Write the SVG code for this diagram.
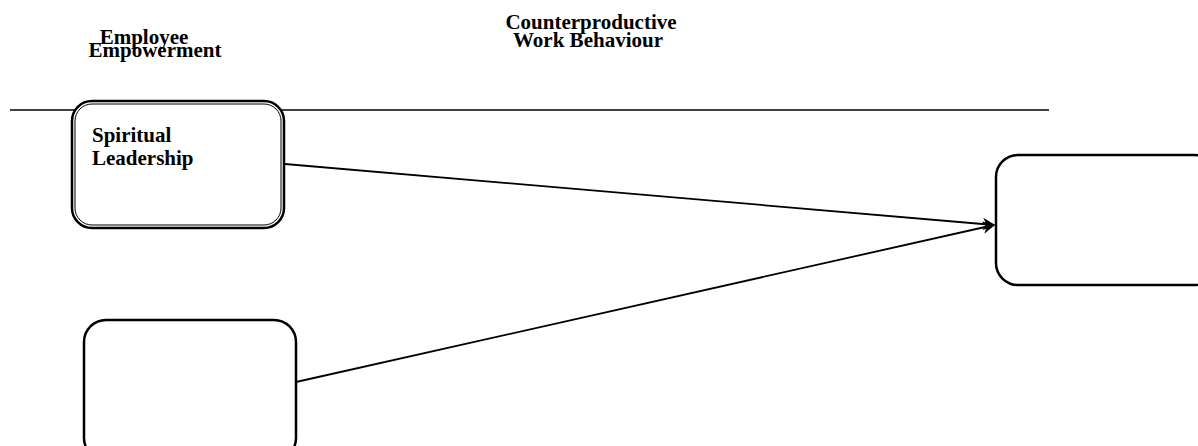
<svg xmlns="http://www.w3.org/2000/svg" width="1198" height="446" viewBox="0 0 1198 446">
<style>
.t{font-family:"Liberation Serif",serif;font-weight:bold;font-size:21px;fill:#000}
.box{fill:#fff;stroke:#000;stroke-width:2.5}
.conn{stroke:#000;stroke-width:1.8;fill:none}
</style>
<defs>
<marker id="ah" viewBox="0 0 10 10" refX="9" refY="5" markerWidth="7" markerHeight="7" orient="auto" markerUnits="strokeWidth">
<path d="M0,0 L10,5 L0,10 L3,5 z" fill="#000"/>
</marker>
</defs>
<rect width="1198" height="446" fill="#fff"/>
<g id="titles">
<text class="t" x="144" y="44" text-anchor="middle">Employee</text>
<text class="t" x="155" y="57" text-anchor="middle">Empowerment</text>
<text class="t" x="591" y="29" text-anchor="middle">Counterproductive</text>
<text class="t" x="588" y="47" text-anchor="middle">Work Behaviour</text>
</g>
<line x1="10" y1="110" x2="1049" y2="110" stroke="#000" stroke-width="1.5"/>
<g id="connectors">
<line class="conn" x1="285" y1="164" x2="994" y2="225" marker-end="url(#ah)"/>
<line class="conn" x1="296" y1="382" x2="994" y2="225" marker-end="url(#ah)"/>
</g>
<g id="node-spiritual">
<rect class="box" x="72" y="101" width="212" height="127" rx="20"/>
<rect x="75" y="104" width="206" height="121" rx="17" fill="none" stroke="#000" stroke-width="1"/>
<text class="t" x="92" y="142">Spiritual</text>
<text class="t" x="92" y="165">Leadership</text>
</g>
<g id="node-empty-bottom">
<rect class="box" x="84" y="320" width="212" height="140" rx="22"/>
</g>
<g id="node-right">
<rect class="box" x="996" y="155" width="220" height="130" rx="22"/>
</g>
</svg>
